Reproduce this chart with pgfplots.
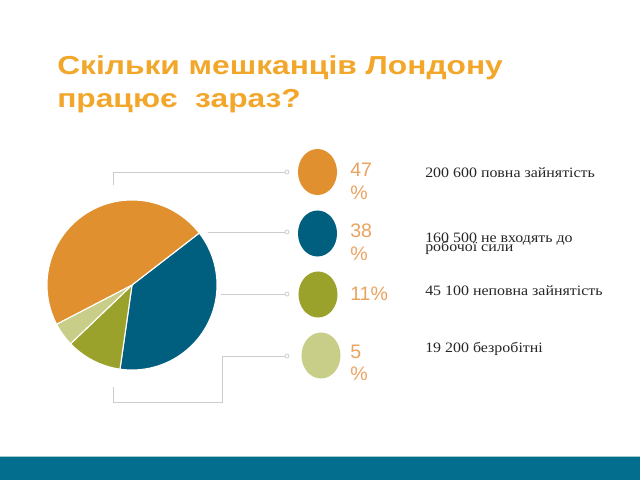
\documentclass[border=0pt]{standalone}
\usepackage{pgfplots}
\pgfplotsset{compat=1.18}
\usepackage{pgfplotstable}
\usepackage{fontspec}
\setmainfont{Liberation Serif}
\newfontfamily\arial{Liberation Sans}
\newfontfamily\arialwide[FakeStretch=1.22]{Liberation Sans}
\newfontfamily\serifwide[FakeStretch=1.11]{Liberation Serif}

\definecolor{pieorange}{HTML}{E0902E}
\definecolor{pieblue}{HTML}{005E7E}
\definecolor{piegreen}{HTML}{9AA22C}
\definecolor{pielight}{HTML}{C8CE88}
\definecolor{titleorange}{HTML}{F2A62A}
\definecolor{pcttext}{HTML}{E8A360}
\definecolor{leader}{HTML}{CCCCCC}
\definecolor{band}{HTML}{036E8E}
\definecolor{bandedge}{HTML}{9CCCCC}

% thousands of people, clockwise from the blue slice
\pgfplotstableread{
share color
160.5 pieblue
45.1  piegreen
19.2  pielight
200.6 pieorange
}\piedata

\begin{document}
\begin{tikzpicture}
\begin{axis}[x=0.025cm, y=0.025cm, xmin=0, xmax=640, ymin=0, ymax=480,
    y dir=reverse, hide axis, clip=false, scale only axis]
  \path (axis cs:0,0) rectangle (axis cs:640,480);

  % pie
  \def\total{0}
  \pgfplotsforeachungrouped \i in {0,...,3}{%
    \pgfplotstablegetelem{\i}{share}\of\piedata
    \pgfmathsetmacro\total{\total+\pgfplotsretval}%
  }
  \def\startang{37.7}
  \pgfplotsforeachungrouped \i in {0,...,3}{%
    \pgfplotstablegetelem{\i}{share}\of\piedata \let\v\pgfplotsretval
    \pgfplotstablegetelem{\i}{color}\of\piedata \let\c\pgfplotsretval
    \pgfmathsetmacro\endang{\startang-\v/\total*360}%
    \edef\temp{\noexpand\filldraw[fill=\c, draw=white, line width=0.8pt]
      (axis cs:132,285) -- ++(\startang:2.125cm)
      arc[start angle=\startang, end angle=\endang, radius=2.125cm] -- cycle;}%
    \temp
    \global\let\startang\endang
  }

  % leader lines
  \draw[leader, line width=0.6pt] (axis cs:113,185) -- (axis cs:113,172) -- (axis cs:285,172);
  \draw[leader, line width=0.6pt] (axis cs:208,232) -- (axis cs:285,232);
  \draw[leader, line width=0.6pt] (axis cs:221,294) -- (axis cs:285,294);
  \draw[leader, line width=0.6pt] (axis cs:285,356) -- (axis cs:222,356) -- (axis cs:222,402)
     -- (axis cs:113,402) -- (axis cs:113,387);
  \pgfplotsinvokeforeach{172,232,294,356}{
    \filldraw[draw=leader, fill=white, line width=0.5pt] (axis cs:287,#1) circle[radius=0.05cm];
  }

  % markers
  \fill[pieorange] (axis cs:317.5,172) ellipse[x radius=0.4875cm, y radius=0.575cm];
  \fill[pieblue] (axis cs:317.5,233.5) ellipse[x radius=0.4875cm, y radius=0.575cm];
  \fill[piegreen] (axis cs:318,294.5) ellipse[x radius=0.4875cm, y radius=0.575cm];
  \fill[pielight] (axis cs:321,355.5) ellipse[x radius=0.4875cm, y radius=0.575cm];

  % title
  \node[anchor=base west, inner sep=0pt, text=titleorange,
        font=\arialwide\bfseries\fontsize{18.5pt}{22pt}\selectfont]
        at (axis cs:57,74) {Скільки мешканців Лондону};
  \node[anchor=base west, inner sep=0pt, text=titleorange,
        font=\arialwide\bfseries\fontsize{18.5pt}{22pt}\selectfont]
        at (axis cs:57,107) {працює\ \ зараз?};

  % percentages
  \tikzset{pct/.style={anchor=base west, inner sep=0pt, text=pcttext,
        font=\arial\fontsize{13.9pt}{16pt}\selectfont}}
  \node[pct] at (axis cs:350,176) {47};
  \node[pct] at (axis cs:350,199) {\%};
  \node[pct] at (axis cs:350,237) {38};
  \node[pct] at (axis cs:350,260) {\%};
  \node[pct] at (axis cs:350,300) {11\%};
  \node[pct] at (axis cs:350,358) {5};
  \node[pct] at (axis cs:350,380) {\%};

  % descriptions
  \tikzset{desc/.style={anchor=base west, inner sep=0pt, text=black!85,
        font=\serifwide\fontsize{10.2pt}{11pt}\selectfont}}
  \node[desc] at (axis cs:425,177) {200 600 повна зайнятість};
  \node[desc] at (axis cs:425,242) {\rlap{\raisebox{-6.8pt}{робочої сили}}160 500 не входять до};
  \node[desc] at (axis cs:425,295) {45 100 неповна зайнятість};
  \node[desc] at (axis cs:425,352) {19 200 безробітні};

  % bottom band
  \fill[bandedge] (axis cs:0,455.5) rectangle (axis cs:640,457.5);
  \fill[band] (axis cs:0,457) rectangle (axis cs:640,480);
\end{axis}
\end{tikzpicture}
\end{document}
